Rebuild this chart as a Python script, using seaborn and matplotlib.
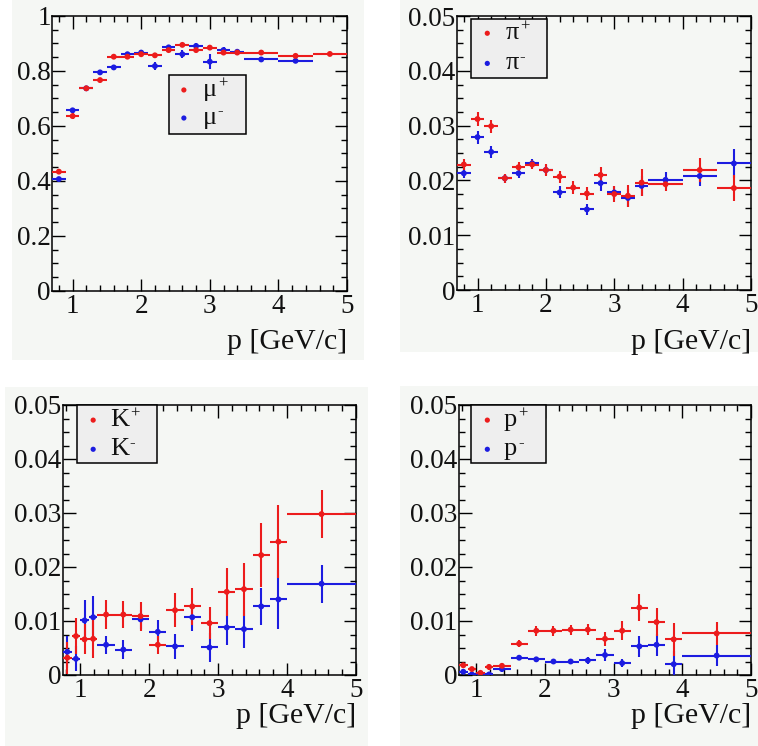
import numpy as np
import pandas as pd
import matplotlib
matplotlib.use("Agg")
import matplotlib.pyplot as plt
from matplotlib.patches import Rectangle
from matplotlib.ticker import MultipleLocator, AutoMinorLocator, FuncFormatter
import seaborn as sns

nan = np.nan

# momentum binning used for muons and pions
p_mu = [0.8, 1.0, 1.2, 1.4, 1.6, 1.8, 2.0, 2.2, 2.4, 2.6, 2.8, 3.0, 3.2, 3.4, 3.75, 4.25, 4.75]
dp_mu = [0.1] * 14 + [0.25] * 3

# momentum binning used for kaons and protons
p_k = [0.8125, 0.9375, 1.0625, 1.1875, 1.375, 1.625, 1.875, 2.125, 2.375,
       2.625, 2.875, 3.125, 3.375, 3.625, 3.875, 4.5]
dp_k = [0.0625] * 4 + [0.125] * 11 + [0.5]

mu_plus = [0.434, 0.636, 0.737, 0.767, 0.852, 0.852, 0.861, 0.857, 0.876, 0.895,
           0.876, 0.885, 0.867, 0.867, 0.867, 0.855, 0.862]
mu_plus_err = [0.008, 0.010, 0.008, 0.008, 0.006, 0.006, 0.006, 0.008, 0.006, 0.006,
               0.006, 0.006, 0.006, 0.006, 0.005, 0.006, 0.006]
mu_minus = [0.407, 0.657, 0.737, 0.795, 0.813, 0.861, 0.867, 0.818, 0.886, 0.861,
            0.891, 0.834, 0.876, 0.870, 0.842, 0.837, nan]
mu_minus_err = [0.008, 0.010, 0.008, 0.008, 0.008, 0.007, 0.007, 0.013, 0.009, 0.015,
                0.009, 0.026, 0.012, 0.008, 0.006, 0.007, nan]

pi_plus = [0.0229, 0.0312, 0.0299, 0.0204, 0.0224, 0.0229, 0.0219, 0.0207, 0.0187,
           0.0176, 0.0210, 0.0175, 0.0172, 0.0196, 0.0193, 0.0219, 0.0186]
pi_plus_err = [0.0010, 0.0012, 0.0012, 0.0008, 0.0009, 0.0009, 0.0011, 0.0011, 0.0011,
               0.0012, 0.0014, 0.0015, 0.0020, 0.0024, 0.0013, 0.0022, 0.0024]
pi_minus = [0.0213, 0.0279, 0.0252, 0.0204, 0.0213, 0.0231, 0.0219, 0.0178, nan,
            0.0147, 0.0195, 0.0178, 0.0168, 0.0190, 0.0201, 0.0208, 0.0231]
pi_minus_err = [0.0009, 0.0012, 0.0011, 0.0008, 0.0009, 0.0008, 0.0010, 0.0011, nan,
                0.0010, 0.0014, 0.0012, 0.0016, 0.0018, 0.0014, 0.0018, 0.0027]

k_plus = [0.0032, 0.0072, 0.0066, 0.0067, 0.0112, 0.0112, 0.0109, 0.0056, 0.0120,
          0.0127, 0.0096, 0.0154, 0.0159, 0.0222, 0.0247, 0.0298]
k_plus_err = [0.0030, 0.0034, 0.0028, 0.0035, 0.0026, 0.0025, 0.0027, 0.0017, 0.0031,
              0.0034, 0.0030, 0.0044, 0.0049, 0.0059, 0.0068, 0.0044]
k_minus = [0.0043, 0.0030, 0.0101, 0.0107, 0.0056, 0.0047, 0.0103, 0.0080, 0.0053,
           0.0107, 0.0051, 0.0088, 0.0085, 0.0127, 0.0140, 0.0169]
k_minus_err = [0.0030, 0.0023, 0.0038, 0.0040, 0.0017, 0.0017, 0.0018, 0.0022, 0.0023,
               0.0026, 0.0026, 0.0032, 0.0035, 0.0035, 0.0054, 0.0035]

pr_plus = [0.0018, 0.0011, 0.0004, 0.0015, 0.0017, 0.0058, 0.0082, 0.0082, 0.0084,
           0.0084, 0.0067, 0.0082, 0.0125, 0.0098, 0.0066, 0.0077]
pr_plus_err = [0.0004, 0.0004, 0.0004, 0.0005, 0.0006, 0.0007, 0.0009, 0.0009, 0.0009,
               0.0010, 0.0013, 0.0018, 0.0025, 0.0026, 0.0031, 0.0022]
pr_minus = [0.0006, 0.0001, 0.0002, 0.0001, 0.0011, 0.0032, 0.0029, 0.0025, 0.0025,
            0.0027, 0.0037, 0.0022, 0.0053, 0.0056, 0.0020, 0.0036]
pr_minus_err = [0.0004, 0.0003, 0.0003, 0.0003, 0.0005, 0.0005, 0.0005, 0.0005, 0.0005,
                0.0006, 0.0011, 0.0008, 0.0019, 0.0020, 0.0024, 0.0019]

xlabel = "p [GeV/c]"
RED = "#ec1c1c"
BLUE = "#1c1ce0"
PAD = "#f5f7f4"

sns.set_theme(style="white")
plt.rcParams["font.family"] = ["Liberation Serif", "DejaVu Serif"]

W, H = 758, 746
fig = plt.figure(figsize=(W / 100, H / 100), dpi=100, facecolor="white")

# pad backgrounds (pixel boxes: x0, y0, x1, y1), kept beneath the axes
for x0, y0, x1, y1 in [(12, 0, 364, 360), (400, 0, 758, 352),
                       (5, 387, 368, 746), (400, 386, 758, 746)]:
    fig.patches.append(Rectangle((x0 / W, 1 - y1 / H), (x1 - x0) / W, (y1 - y0) / H,
                                 transform=fig.transFigure, facecolor=PAD,
                                 edgecolor="none", zorder=-10))


def add_axes(l, r, t, b):
    return fig.add_axes([l / W, 1 - b / H, (r - l) / W, (b - t) / H])


panels = [
    dict(box=(52, 347, 16, 291), x=p_mu, dx=dp_mu, xlim=(0.7, 5), ylim=(0, 1),
         ymaj=0.2, plus=(mu_plus, mu_plus_err), minus=(mu_minus, mu_minus_err),
         base="μ", xl_y=-0.138,
         leg=dict(box=(0.397, 0.571, 0.658, 0.785), mx=0.447, tx=0.512, rows=(0.731, 0.629))),
    dict(box=(457, 751, 16, 290), x=p_mu, dx=dp_mu, xlim=(0.7, 5), ylim=(0, 0.05),
         ymaj=0.01, plus=(pi_plus, pi_plus_err), minus=(pi_minus, pi_minus_err),
         base="π", xl_y=-0.142,
         leg=dict(box=(0.047, 0.773, 0.305, 0.988), mx=0.103, tx=0.166, rows=(0.937, 0.827))),
    dict(box=(63, 356, 405, 675), x=p_k, dx=dp_k, xlim=(0.75, 5), ylim=(0, 0.05),
         ymaj=0.01, plus=(k_plus, k_plus_err), minus=(k_minus, k_minus_err),
         base="K", xl_y=-0.104,
         leg=dict(box=(0.048, 0.784, 0.321, 1.0), mx=0.103, tx=0.160, rows=(0.944, 0.836))),
    dict(box=(459, 751, 405, 675), x=p_k, dx=dp_k, xlim=(0.75, 5), ylim=(0, 0.05),
         ymaj=0.01, plus=(pr_plus, pr_plus_err), minus=(pr_minus, pr_minus_err),
         base="p", xl_y=-0.104,
         leg=dict(box=(0.040, 0.784, 0.299, 1.0), mx=0.097, tx=0.154, rows=(0.944, 0.836))),
]

fmt = FuncFormatter(lambda v, pos: f"{v:g}")

for pan in panels:
    ax = add_axes(*pan["box"])
    ax.set_facecolor(PAD)
    frames = []
    for charge, (vals, errs) in [("-", pan["minus"]), ("+", pan["plus"])]:
        frames.append(pd.DataFrame({"p": pan["x"], "dp": pan["dx"], "v": vals,
                                    "err": errs, "charge": charge}))
    df = pd.concat(frames, ignore_index=True).dropna()
    palette = {"-": BLUE, "+": RED}
    for charge in ["-", "+"]:
        sub = df[df["charge"] == charge]
        ax.errorbar(sub["p"], sub["v"], xerr=sub["dp"], yerr=sub["err"], fmt="none",
                    ecolor=palette[charge], elinewidth=1.5, capsize=0, zorder=3)
    sns.scatterplot(data=df, x="p", y="v", hue="charge", palette=palette,
                    hue_order=["-", "+"], s=18, edgecolor="none", legend=False,
                    ax=ax, zorder=4)

    ax.set_xlim(*pan["xlim"])
    ax.set_ylim(*pan["ylim"])
    ax.xaxis.set_major_locator(MultipleLocator(1))
    ax.xaxis.set_minor_locator(MultipleLocator(0.2))
    ax.yaxis.set_major_locator(MultipleLocator(pan["ymaj"]))
    ax.yaxis.set_minor_locator(AutoMinorLocator(4))
    ax.xaxis.set_major_formatter(fmt)
    ax.yaxis.set_major_formatter(fmt)
    ax.tick_params(which="both", direction="in", top=True, right=True,
                   bottom=True, left=True, color="black", width=1.0,
                   labelsize=19.5, labelcolor="#111111")
    ax.tick_params(axis="x", which="major", length=9, pad=2)
    ax.tick_params(axis="y", which="major", length=9, pad=1)
    ax.tick_params(which="minor", length=4.5)
    for sp in ax.spines.values():
        sp.set_visible(True)
        sp.set_color("black")
        sp.set_linewidth(1.1)
    ax.set_ylabel("")
    ax.set_xlabel(xlabel, fontsize=21.5, color="#111111", ha="right")
    ax.xaxis.set_label_coords(1.0, pan["xl_y"])
    ax.grid(False)

    lg = pan["leg"]
    x0, y0, x1, y1 = lg["box"]
    ax.add_patch(Rectangle((x0, y0), x1 - x0, y1 - y0, transform=ax.transAxes,
                           facecolor="#eeeeee", edgecolor="black", linewidth=1.1,
                           zorder=6, clip_on=False))
    for sign, col, yy in zip(["+", "-"], [RED, BLUE], lg["rows"]):
        ax.scatter([lg["mx"]], [yy], s=14, color=col, transform=ax.transAxes,
                   zorder=7, edgecolors="none", clip_on=False)
        base = ax.text(lg["tx"], yy, pan["base"], transform=ax.transAxes, fontsize=19,
                       va="center", ha="left", color="#111111", zorder=7)
        # small charge superscript attached to the particle symbol
        ax.annotate(sign, xy=(1.0, 0.8), xycoords=base, xytext=(0.5, 0),
                    textcoords="offset points", fontsize=12, va="center", ha="left",
                    color="#111111", zorder=7)

fig.savefig("out.png", dpi=100, facecolor="white")
